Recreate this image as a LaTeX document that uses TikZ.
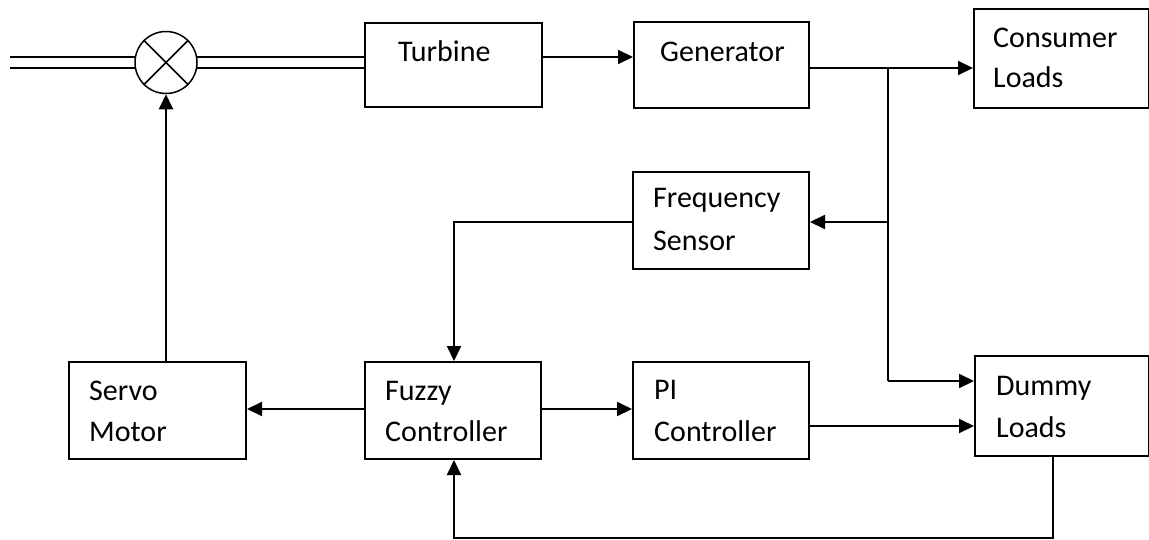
\documentclass[tikz,border=0pt]{standalone}
\usepackage{fontspec}
\setmainfont{Carlito}
\usetikzlibrary{arrows.meta,calc}
\begin{document}
\begin{tikzpicture}[x=1pt,y=-1pt,
  box/.style={draw,line width=2pt,inner sep=0pt,anchor=north west},
  lbl/.style={anchor=base west,inner sep=0pt,font=\fontsize{30}{40}\selectfont},
  conn/.style={line width=2pt},
  arr/.style={line width=2pt,-{Triangle[length=15pt,width=14pt]}},
  pipe/.style={line width=1.5pt}]
\useasboundingbox (0,0) rectangle (1149,539);
% boxes
\node[box,minimum width=177pt,minimum height=84pt] (turb) at (364,22) {};
\node[box,minimum width=175pt,minimum height=86pt] (gen) at (633,21) {};
\node[box,minimum width=175pt,minimum height=99pt] (cons) at (973,8) {};
\node[box,minimum width=176pt,minimum height=97pt] (freq) at (632,171) {};
\node[box,minimum width=177pt,minimum height=97pt] (servo) at (68,361) {};
\node[box,minimum width=176pt,minimum height=97pt] (fuzzy) at (364,361) {};
\node[box,minimum width=176pt,minimum height=97pt] (pi) at (632,361) {};
\node[box,minimum width=174pt,minimum height=100pt] (dummy) at (974,355) {};
% labels
\node[lbl] (tTurb) at (398,61) {Turbine};
\node[lbl] (tGen) at (660,61) {Generator};
\node[lbl] (tCons1) at (993,47) {Consumer};
\node[lbl] (tCons2) at (993,87) {Loads};
\node[lbl] (tFreq1) at (653,207) {Frequency};
\node[lbl] (tFreq2) at (653,250) {Sensor};
\node[lbl] (tServo1) at (89,400) {Servo};
\node[lbl] (tServo2) at (89,441) {Motor};
\node[lbl] (tFuzzy1) at (385,400) {Fuzzy};
\node[lbl] (tFuzzy2) at (385,441) {Controller};
\node[lbl] (tPI1) at (654,399) {PI};
\node[lbl] (tPI2) at (654,441) {Controller};
\node[lbl] (tDummy1) at (996,395) {Dummy};
\node[lbl] (tDummy2) at (996,437) {Loads};
% valve
\node[draw,circle,line width=1.5pt,minimum size=62pt,inner sep=0pt] (valve) at (166,62.5) {};
\draw[pipe] (valve.north west) -- (valve.south east);
\draw[pipe] (valve.north east) -- (valve.south west);
\coordinate (inA) at (10,57);
\coordinate (inB) at (10,68);
\draw[pipe] (inA) -- ([xshift=0.6pt]inA -| valve.west);
\draw[pipe] (inB) -- ([xshift=0.6pt]inB -| valve.west);
\draw[pipe] ([xshift=-0.6pt]inA -| valve.east) -- (inA -| turb.west);
\draw[pipe] ([xshift=-0.6pt]inB -| valve.east) -- (inB -| turb.west);
% connectors
\draw[arr] (valve.south |- servo.north) -- (valve.south);
\coordinate (tg) at (541,57);
\draw[arr] (tg) -- (tg -| gen.west);
\coordinate (j1) at (888,68);
\coordinate (j2) at (888,222);
\coordinate (j3) at (888,381);
\draw[conn] (gen.east |- j1) -- (j1);
\draw[arr] (j1) -- (j1 -| cons.west);
\draw[conn] (j1) -- (j3);
\draw[arr] (j2) -- (j2 -| freq.east);
\draw[arr] (j3) -- (j3 -| dummy.west);
\coordinate (fz) at (454,222);
\draw[arr] (freq.west |- fz) -- (fz) -- (fz |- fuzzy.north);
\coordinate (fm) at (400,409);
\draw[arr] (fm -| fuzzy.west) -- (fm -| servo.east);
\draw[arr] (fm -| fuzzy.east) -- (fm -| pi.west);
\coordinate (pd) at (808,426);
\draw[arr] (pd) -- (pd -| dummy.west);
\coordinate (b1) at (1053,538);
\coordinate (b2) at (454,538);
\draw[arr] (b1 |- dummy.south) -- (b1) -- (b2) -- (b2 |- fuzzy.south);
\end{tikzpicture}
\end{document}
